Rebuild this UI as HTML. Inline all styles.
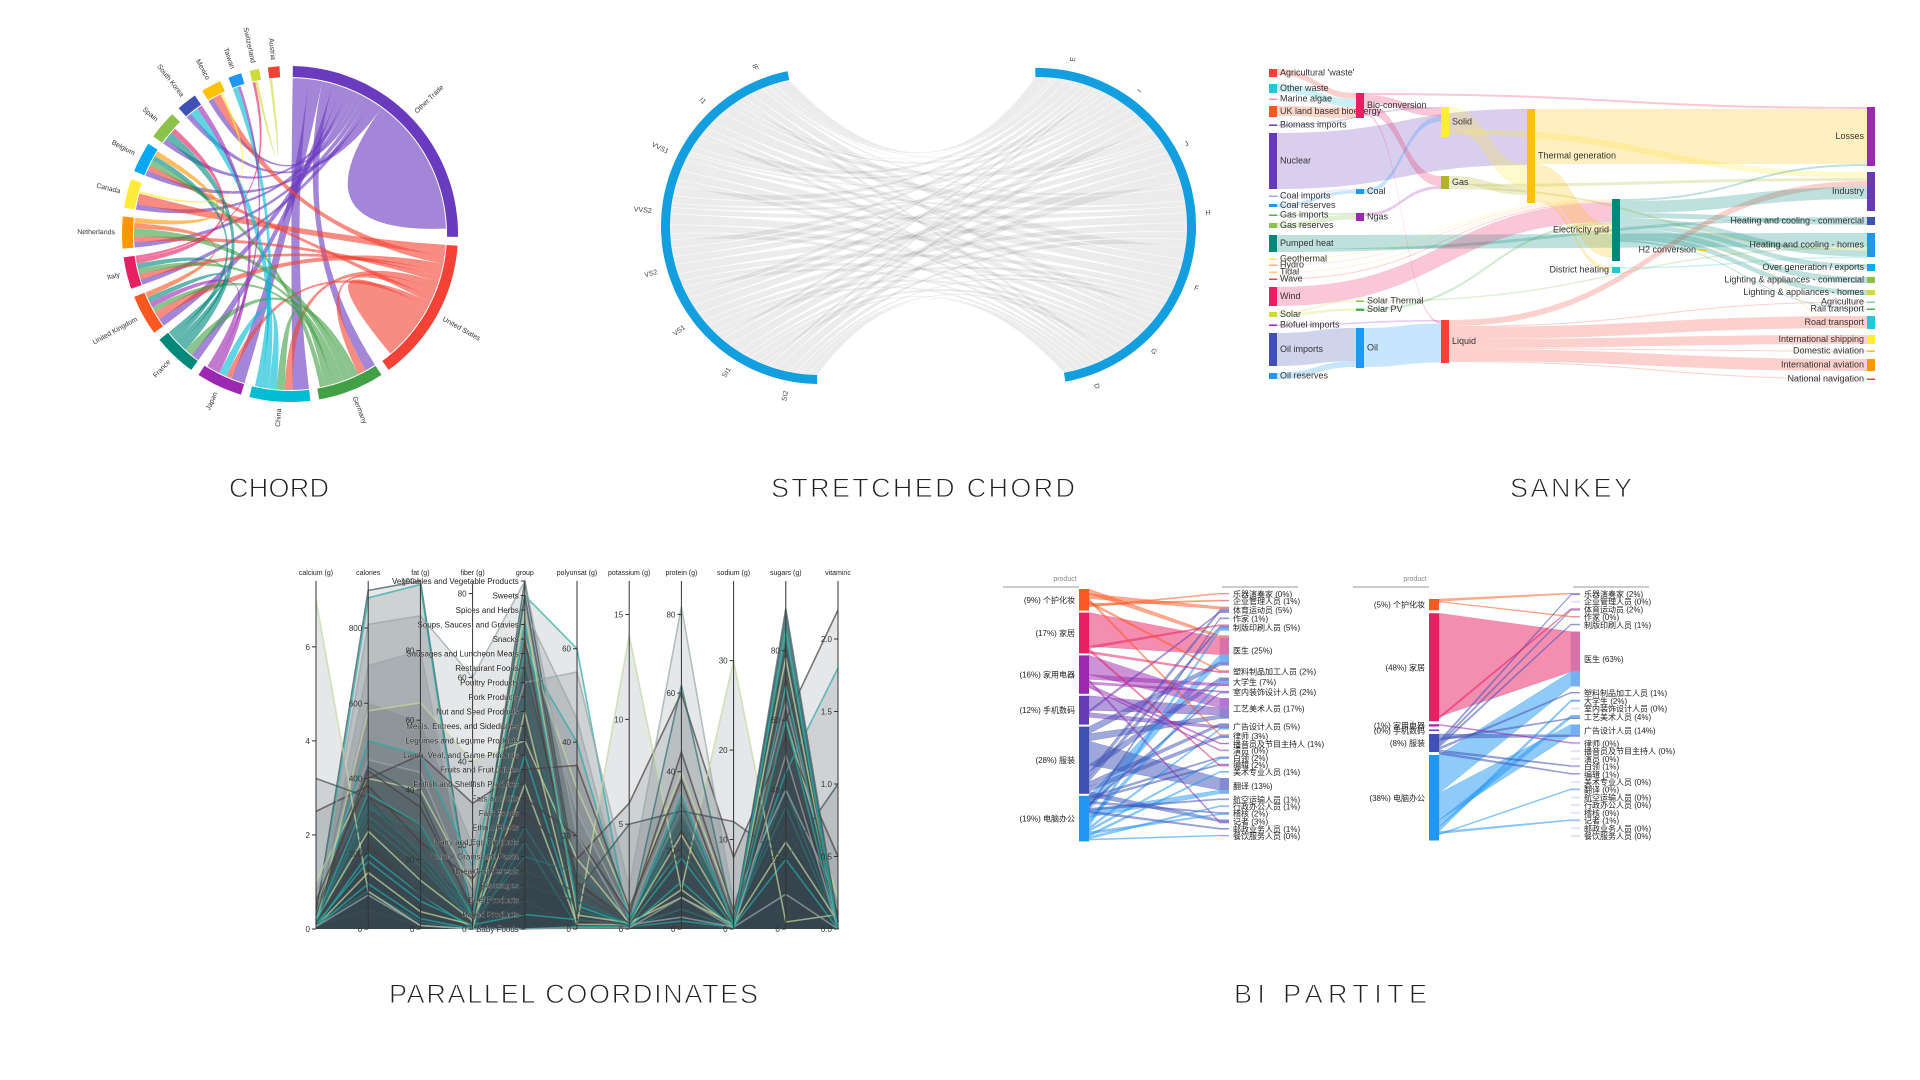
<!DOCTYPE html>
<html><head><meta charset="utf-8"><style>
html,body{margin:0;padding:0;background:#fff;}
svg{display:block;font-family:"Liberation Sans","Noto Sans CJK SC",sans-serif;}
</style></head><body>
<svg id="svg" width="1920" height="1080" viewBox="0 0 1920 1080" xmlns="http://www.w3.org/2000/svg">
<rect x="0" y="0" width="1920" height="1080" fill="#fff"/>
<g font-size="27" fill="#222" stroke="#fff" stroke-width="0.9" text-anchor="start">
<text x="229" y="497" textLength="100" lengthAdjust="spacing">CHORD</text>
<text x="771" y="497" textLength="304" lengthAdjust="spacing">STRETCHED CHORD</text>
<text x="1510" y="497" textLength="122" lengthAdjust="spacing">SANKEY</text>
<text x="389" y="1003" textLength="369" lengthAdjust="spacing">PARALLEL COORDINATES</text>
<text x="1234" y="1003" textLength="193" lengthAdjust="spacing">BI PARTITE</text>
</g>
</svg>
<script>
// ---------- CHORD DATA ----------
const chordNames=['Other Trade','United States','Germany','China','Japan','France','United Kingdom','Italy','Netherlands','Canada','Belgium','Spain','South Korea','Mexico','Taiwan','Switzerland','Austria'];
const chordValues=[90,50,23,21,16,15,14,11,11,10,10.5,10,7,7,4.6,3.3,4];
const chordColors=['#6a3bbf','#f44336','#43a047','#00bcd4','#9c27b0','#00897b','#ff5722','#e91e63','#ff9800','#ffeb3b','#03a9f4','#8bc34a','#3f51b5','#ffc107','#2196f3','#cddc39','#f44336'];
const chordFlows=[
['Other Trade','China',6],['Other Trade','Japan',5],['Other Trade','Germany',4],['Other Trade','France',3],['Other Trade','United Kingdom',3],['Other Trade','Spain',2],['Other Trade','Canada',2],['Other Trade','Mexico',2],['Other Trade','Netherlands',2],['Other Trade','Italy',2],['Other Trade','Belgium',2],['Other Trade','South Korea',2],['Other Trade','Other Trade',26],
['United States','Canada',4],['United States','Mexico',3],['United States','United Kingdom',3],['United States','Italy',2],['United States','Netherlands',2],['United States','China',3],['United States','Germany',3],['United States','Belgium',2],['United States','Japan',2],['United States','United States',11],
['Germany','France',3],['Germany','Netherlands',3],['Germany','Italy',2],['Germany','United Kingdom',2],['Germany','China',3],['Germany','Belgium',2],
['China','Japan',3],['China','South Korea',3],['China','Taiwan',2],
['Japan','South Korea',2],['Japan','Taiwan',1],['Japan','United Kingdom',2],
['France','Spain',3],['France','Italy',2],['France','Belgium',2],['France','United Kingdom',2],
['United Kingdom','Netherlands',2],['Italy','Spain',2],['Italy','Switzerland',1],['Netherlands','Belgium',2],['Canada','Mexico',1],['Switzerland','Austria',1]
];
// ---------- STRETCHED CHORD DATA ----------
const scLeft=['IF','I1','VVS1','VVS2','VS2','VS1','SI1','SI2'];
const scRight=['E','I','J','H','F','G','D'];
const scMatrix=[
[30,10,5,8,22,15,10],
[8,12,18,25,15,12,10],
[20,12,6,10,22,18,12],
[18,14,8,12,20,16,12],
[15,16,15,18,14,12,10],
[12,16,18,16,12,14,12],
[10,18,20,14,10,16,12],
[8,16,22,14,10,14,16]];
// ---------- SANKEY DATA ----------
const skNames=["Agricultural 'waste'","Other waste","Marine algae","UK land based bioenergy","Biomass imports","Nuclear","Coal imports","Coal reserves","Gas imports","Gas reserves","Pumped heat","Geothermal","Hydro","Tidal","Wave","Wind","Solar","Biofuel imports","Oil imports","Oil reserves",
"Bio-conversion","Coal","Ngas","Solar Thermal","Solar PV","Oil",
"Solid","Gas","Liquid","Thermal generation","Electricity grid","District heating","H2 conversion",
"Losses","Industry","Heating and cooling - commercial","Heating and cooling - homes","Over generation / exports","Lighting & appliances - commercial","Lighting & appliances - homes","Agriculture","Rail transport","Road transport","International shipping","Domestic aviation","International aviation","National navigation"];
const skCol=[0,0,0,0,0,0,0,0,0,0,0,0,0,0,0,0,0,0,0,0, 1,1,1,1,1,1, 2,2,2,3,4,4,5, 6,6,6,6,6,6,6,6,6,6,6,6,6,6];
const skTop=[69,84,98.5,106,124.5,133,195.5,204,214.5,223,235,258.5,264.5,271.5,278.5,287,312,324.5,333,373, 93,189,213,300.5,308.5,328, 107,176,320,109,199,267,249.5, 107,172,217,233,264,277,290,301.5,308.5,316,335,350.5,359,378.5];
const skHeight=[8,9,1.5,11,1.5,56,1.5,3,1.5,5,17,1.5,1.5,1.5,1.5,19,5,1.5,33,6, 25,5,8,1.5,2.5,40, 30,13,43,94,62,6,1.5, 59,39,8,24,7,6,5,1.5,1.5,13,9,1.5,12,1.5];
const skColors=['#f44336','#26c6da','#f48fb1','#ff5722','#673ab7','#673ab7','#9fa8da','#2196f3','#4caf50','#8bc34a','#00897b','#ffeb3b','#ffab91','#ffcc80','#f44336','#e91e63','#cddc39','#9c27b0','#3f51b5','#2196f3',
'#e91e63','#2196f3','#9c27b0','#8bc34a','#4caf50','#2196f3','#ffeb3b','#afb42b','#f44336','#ffc107','#00897b','#26c6da','#ffc107',
'#9c27b0','#673ab7','#3f51b5','#2196f3','#03a9f4','#8bc34a','#cddc39','#80cbc4','#4caf50','#26c6da','#ffeb3b','#ffc107','#ff9800','#f44336'];
const skLinks=[
["Agricultural 'waste'","Bio-conversion",6],["Other waste","Bio-conversion",8],["Marine algae","Bio-conversion",1],["UK land based bioenergy","Bio-conversion",10],["Biomass imports","Solid",1.5],
["Nuclear","Thermal generation",56],["Coal imports","Coal",1.5],["Coal reserves","Coal",3],["Gas imports","Ngas",1.5],["Gas reserves","Ngas",5],
["Pumped heat","Heating and cooling - homes",14],["Pumped heat","Heating and cooling - commercial",3],
["Geothermal","Electricity grid",1],["Hydro","Electricity grid",1],["Tidal","Electricity grid",1],["Wave","Electricity grid",1],["Wind","Electricity grid",19],
["Solar","Solar Thermal",1.5],["Solar","Solar PV",2.5],["Solar Thermal","Heating and cooling - homes",1.5],["Solar PV","Electricity grid",2.5],
["Biofuel imports","Liquid",1.5],["Oil imports","Oil",33],["Oil reserves","Oil",6],
["Bio-conversion","Losses",2],["Bio-conversion","Solid",8],["Bio-conversion","Gas",10],["Bio-conversion","Liquid",2],
["Coal","Solid",5],["Ngas","Gas",3],["Oil","Liquid",39],
["Solid","Thermal generation",22],["Solid","Industry",6],["Gas","Thermal generation",8],["Gas","Industry",3],["Gas","Heating and cooling - homes",2],
["Liquid","Industry",6],["Liquid","Agriculture",1],["Liquid","Road transport",12],["Liquid","International shipping",9],["Liquid","Domestic aviation",1],["Liquid","International aviation",12],["Liquid","National navigation",1],
["Thermal generation","Losses",55],["Thermal generation","Electricity grid",33],["Thermal generation","District heating",5],
["Electricity grid","Losses",2],["Electricity grid","Industry",12],["Electricity grid","Heating and cooling - commercial",5],["Electricity grid","Heating and cooling - homes",6],["Electricity grid","Over generation / exports",5],["Electricity grid","Lighting & appliances - commercial",6],["Electricity grid","Lighting & appliances - homes",5],["Electricity grid","H2 conversion",1],["Electricity grid","Rail transport",1],
["District heating","Heating and cooling - homes",1.5],["H2 conversion","Road transport",1]
];
// ---------- PARALLEL COORDINATES DATA ----------
const pcAxes=['calcium (g)','calories','fat (g)','fiber (g)','group','polyunsat (g)','potassium (g)','protein (g)','sodium (g)','sugars (g)','vitaminc'];
const pcMax=[7.4,925,100,83,24,74.5,16.6,88.5,38.9,100,2.4];
const pcTicks=[[0,2,4,6],[0,200,400,600,800],[0,20,40,60,80,100],[0,20,40,60,80],[],[0,20,40,60],[0,5,10,15],[0,20,40,60,80],[0,10,20,30],[0,20,40,60,80],[0,0.5,1,1.5,2]];
const pcGroups=['Baby Foods','Baked Products','Beef Products','Beverages','Breakfast Cereals','Cereal Grains and Pasta','Dairy and Egg Products','Ethnic Foods','Fast Foods','Fats and Oils','Finfish and Shellfish Products','Fruits and Fruit Juices','Lamb, Veal, and Game Products','Legumes and Legume Products','Meals, Entrees, and Sidedishes','Nut and Seed Products','Pork Products','Poultry Products','Restaurant Foods','Sausages and Luncheon Meats','Snacks','Soups, Sauces, and Gravies','Spices and Herbs','Sweets','Vegetables and Vegetable Products'];
const pcRows=[
[0.3,900,100,2,24,10,0.2,5,0.5,80,0.05],[0.1,880,99,0,23,60,0.1,2,0.2,85,0],[0.2,700,80,5,22,45,0.5,30,1,70,0.1],[1.0,400,40,10,20,30,1.0,40,2,60,0.2],
[0.5,350,30,3,18,10,0.4,25,1,50,0.05],[0.2,300,20,2,16,5,0.3,30,0.5,40,0.02],[0.1,250,15,1,14,3,0.3,20,0.6,30,0],[0.05,200,10,0,12,2,0.2,28,0.3,20,0],
[0.8,450,45,8,21,25,0.6,35,1.5,65,0.1],[0.05,150,5,1,10,1,0.2,10,0.2,85,0],[2.5,380,25,12,8,15,6,60,8,55,0.5],[0.1,100,2,0,6,0.5,0.1,5,0.1,90,0],
[0.1,50,1,0,2,0.2,0.1,1,0.1,75,0],[0.3,500,50,15,19,40,0.5,20,0.5,45,1.8],[0.2,600,60,20,17,55,2,82,3,40,0.2],[7,100,1,0,15,1,14,10,30,2,0.1],
[0.4,420,35,5,9,20,0.7,45,2,60,2.2],[0.2,320,28,2,5,12,0.4,62,1,35,0],[0.3,240,12,3,3,6,0.3,22,0.4,82,0],[0.1,180,8,1,1,2,0.2,18,0.3,70,0],
[0.2,810,90,60,24,20,0.2,3,0.2,10,0],[0.1,580,65,40,13,15,0.3,8,0.5,25,0.05],[0.6,400,50,30,11,35,1,38,1,50,0.1],[0.1,280,18,2,7,4,0.2,26,0.6,88,0],
[3.2,350,20,6,4,8,5,30,12,20,1.0],[0.05,120,3,0,0,0.5,0.1,12,0.1,60,0],[0.05,90,1,0,0,0.2,0.05,8,0.1,50,0],[0.2,260,14,2,22,3,0.3,24,0.5,78,0],
[0.15,220,10,1,20,2,0.2,20,0.4,72,0.05],[0.1,330,22,3,18,6,0.3,32,0.7,84,0],[0.3,430,38,4,23,8,0.3,28,0.5,92,0.05],[0.2,360,30,3,21,5,0.2,34,0.4,86,0]
];
// ---------- BIPARTITE DATA ----------
const bpLeftNames=['个护化妆','家居','家用电器','手机数码','服装','电脑办公'];
const bpLeftColors=['#ff5722','#e91e63','#9c27b0','#673ab7','#3f51b5','#2196f3'];
const bpRightNames=['乐器演奏家','企业管理人员','体育运动员','作家','制版印刷人员','医生','塑料制品加工人员','大学生','室内装饰设计人员','工艺美术人员','广告设计人员','律师','播音员及节目主持人','演员','白领','编辑','美术专业人员','翻译','航空运输人员','行政办公人员','稽核','记者','邮政业务人员','餐饮服务人员'];
const bpLeftPctA=[9,17,16,12,28,19];
const bpRightPctA=[0,1,5,1,5,25,2,7,2,17,5,3,1,0,2,2,1,13,1,1,2,3,1,0];
const bpFlowsA=[[0,5,2],[1,5,14],[5,5,6],[4,5,3],[2,9,8],[3,9,6],[4,9,3],[4,17,10],[5,17,3],[4,7,3],[5,7,2],[2,7,2],
[0,2,2],[4,2,2],[3,2,1],[1,4,1],[4,4,2],[5,4,2],[4,10,2],[3,10,2],[5,10,1],[0,11,1],[4,11,2],[4,21,2],[2,21,1],
[4,14,1],[5,14,1],[4,15,1],[1,15,1],[4,20,1],[5,20,1],[0,6,1],[1,6,1],[2,8,1],[4,8,1],[0,1,1],[4,3,1],[2,12,1],[5,16,1],[4,18,1],[5,19,1],[4,22,1],[0,0,0.5],[5,23,0.5],[2,13,0.5]];
const bpLeftPctB=[5,48,1,0,8,38];
const bpRightPctB=[2,0,2,0,1,63,1,2,0,4,14,0,0,0,1,1,0,0,0,0,0,1,0,0];
const bpFlowsB=[[1,5,46],[5,5,17],[5,10,12],[4,10,2],[5,9,3],[4,9,1],[5,7,2],[0,0,1],[4,0,1],[1,2,1],[4,2,1],[4,4,1],[4,6,1],[4,14,1],[4,15,1],[5,21,1],[5,17,0.5],[2,11,0.5],[0,3,0.3]];

const NS='http://www.w3.org/2000/svg';
const svg=document.getElementById('svg');
function mk(tag,attrs,parent){const e=document.createElementNS(NS,tag);for(const k in attrs)e.setAttribute(k,attrs[k]);(parent||svg).appendChild(e);return e;}
const R=Math.PI/180;
function pt(cx,cy,r,a){return [cx+r*Math.cos(a*R),cy+r*Math.sin(a*R)];}
function arcD(cx,cy,r,a0,a1){const n=Math.max(2,Math.ceil(Math.abs(a1-a0)/2));const s=[];for(let i=0;i<=n;i++){const p=pt(cx,cy,r,a0+(a1-a0)*i/n);s.push(p[0].toFixed(1)+' '+p[1].toFixed(1));}return s.join(' L ');}
function band(cx,cy,r0,r1,a0,a1){return 'M'+arcD(cx,cy,r1,a0,a1)+' L '+arcD(cx,cy,r0,a1,a0)+' Z';}

// ================= CHORD =================
(function(){
const cx=290,cy=234,r0=156,r1=168,pad=3;
const g=mk('g',{});


const gs=[],cur=[];let a=-89;
chordValues.forEach((v,i)=>{gs[i]=a;cur[i]=a;a+=v+pad;});
chordFlows.forEach(f=>{
 const i=chordNames.indexOf(f[0]),j=chordNames.indexOf(f[1]);
 const a0=cur[i],a1=a0+f[2];cur[i]=a1;
 const b0=cur[j],b1=b0+f[2];cur[j]=b1;
 const d='M'+arcD(cx,cy,r0,a0,a1)+' Q '+cx+' '+cy+' '+arcD(cx,cy,r0,b0,b1)+' Q '+cx+' '+cy+' '+pt(cx,cy,r0,a0).join(' ')+' Z';
 const p=mk('path',{d:d,fill:chordColors[i],'fill-opacity':0.62},g);
 
 
});
chordValues.forEach((v,i)=>{
 const p=mk('path',{d:band(cx,cy,r0+1,r1,gs[i],gs[i]+v),fill:chordColors[i]},g);
 
 
 const m=gs[i]+v/2;const q=pt(cx,cy,r1+7,m);
 const flip=Math.cos(m*R)<0;
 const t=mk('text',{x:q[0],y:q[1],'font-size':7,fill:'#333','dominant-baseline':'middle','text-anchor':flip?'end':'start',transform:'rotate('+(flip?m+180:m)+' '+q[0]+' '+q[1]+')'},g);
 t.textContent=chordNames[i];
 
 
});
})();

// ================= STRETCHED CHORD =================
(function(){
const L={cx:819,cy:226},Rt={cx:1038,cy:226},r=149,r1=158,C=[928,226];
const g=mk('g',{});


const rowSum=scMatrix.map(r=>r.reduce((s,v)=>s+v,0));
const colSum=scRight.map((_,j)=>scMatrix.reduce((s,r)=>s+r[j],0));
const tot=rowSum.reduce((s,v)=>s+v,0);
const la0=258.5,la1=90.7,ra0=-91,ra1=80;
const lk=(la1-la0)/tot,rk=(ra1-ra0)/tot;
const lStart=[];let a=la0;rowSum.forEach((v,i)=>{lStart[i]=a;a+=v*lk;});
const rStart=[];let b=ra0;colSum.forEach((v,j)=>{rStart[j]=b;b+=v*rk;});
const rCur=rStart.slice();
for(let i=0;i<scLeft.length;i++){
 let ac=lStart[i];
 for(let j=0;j<scRight.length;j++){
  const v=scMatrix[i][j];
  const a0=ac,a1=ac+v*lk;ac=a1;
  const b0=rCur[j],b1=b0+v*rk;rCur[j]=b1;
  const d='M'+arcD(L.cx,L.cy,r,a0,a1)+' Q '+C[0]+' '+C[1]+' '+arcD(Rt.cx,Rt.cy,r,b1,b0)+' Q '+C[0]+' '+C[1]+' '+pt(L.cx,L.cy,r,a0).join(' ')+' Z';
  const p=mk('path',{d:d,fill:'#8a8a8a','fill-opacity':0.16,stroke:'#fff','stroke-opacity':0.55,'stroke-width':0.7},g);
  
  
 }
}
const pl=mk('path',{d:band(L.cx,L.cy,r,r1,la0,la1),fill:'#139ee0'},g);


const pr=mk('path',{d:band(Rt.cx,Rt.cy,r,r1,ra0,ra1),fill:'#139ee0'},g);


scLeft.forEach((n,i)=>{
 const m=lStart[i]+rowSum[i]*lk/2;const q=pt(L.cx,L.cy,r1+10,m);
 const t=mk('text',{x:q[0],y:q[1],'font-size':7,fill:'#444','text-anchor':'end','dominant-baseline':'middle',transform:'rotate('+(m+180)+' '+q[0]+' '+q[1]+')'},g);
 t.textContent=n;
 
 
});
scRight.forEach((n,j)=>{
 const m=rStart[j]+colSum[j]*rk/2;const q=pt(Rt.cx,Rt.cy,r1+10,m);
 const t=mk('text',{x:q[0],y:q[1],'font-size':7,fill:'#444','dominant-baseline':'middle',transform:'rotate('+m+' '+q[0]+' '+q[1]+')'},g);
 t.textContent=n;
 
 
});
})();

// ================= SANKEY =================
(function(){
const colX=[1269,1356,1441,1527,1612,1699,1867],nw=8;
const g=mk('g',{});


const outC=skTop.slice(),inC=skTop.slice();
const lg=mk('g',{},g);


skLinks.forEach(l=>{
 const s=skNames.indexOf(l[0]),t=skNames.indexOf(l[1]),w=l[2];
 const x0=colX[skCol[s]]+nw,x1=colX[skCol[t]];
 const y0=outC[s],y1=inC[t];outC[s]+=w;inC[t]+=w;
 const xm=(x0+x1)/2;
 const d=`M${x0} ${y0} C${xm} ${y0} ${xm} ${y1} ${x1} ${y1} L${x1} ${y1+w} C${xm} ${y1+w} ${xm} ${y0+w} ${x0} ${y0+w} Z`;
 const p=mk('path',{d:d,fill:skColors[s],'fill-opacity':0.25},lg);
 
 
});
skNames.forEach((n,i)=>{
 const c=skCol[i],x=colX[c];
 const rct=mk('rect',{x:x,y:skTop[i],width:nw,height:skHeight[i],fill:skColors[i]},g);
 
 
 const right=c<=3;
 const t=mk('text',{x:right?x+nw+3:x-3,y:skTop[i]+skHeight[i]/2,'font-size':9,fill:'#333','dominant-baseline':'middle','text-anchor':right?'start':'end'},g);
 t.textContent=n;
 
 
});
})();

// ================= PARALLEL COORDINATES =================
(function(){
const x0=316,x1=838,yb=929,yt=581;
const g=mk('g',{});


const ax=i=>x0+(x1-x0)*i/(pcAxes.length-1);
const ay=(i,v)=>yb-(v/pcMax[i])*(yb-yt);
const cols=['#3b4e53','#27a9a6','#9aa6a8','#c5d9a0','#4a3d3d','#2f6f72'];
const lg=mk('g',{},g);


pcRows.forEach((r,k)=>{
 const pts=r.map((v,i)=>ax(i).toFixed(1)+','+ay(i,v).toFixed(1));
 const a=mk('polygon',{points:ax(0)+','+yb+' '+pts.join(' ')+' '+ax(pcAxes.length-1)+','+yb,fill:'#34494e','fill-opacity':0.13},lg);
 
 
});
pcRows.forEach((r,k)=>{
 const pts=r.map((v,i)=>ax(i).toFixed(1)+','+ay(i,v).toFixed(1));
 const c=cols[k%cols.length];
 const p=mk('polyline',{points:pts.join(' '),fill:'none',stroke:c,'stroke-opacity':0.7,'stroke-width':1.6},lg);
 
 
});
pcAxes.forEach((n,i)=>{
 const x=ax(i);
 const l=mk('line',{x1:x,y1:yt,x2:x,y2:yb,stroke:'#333','stroke-width':1},g);
 
 
 const t=mk('text',{x:x,y:575,'font-size':7,fill:'#222','text-anchor':'middle'},g);
 t.textContent=n;
 
 
 pcTicks[i].forEach(v=>{
  const y=ay(i,v);
  const tk=mk('line',{x1:x-4,y1:y,x2:x,y2:y,stroke:'#333'},g);
  
  
  const tl=mk('text',{x:x-6,y:y+3,'font-size':8,fill:'#333','text-anchor':'end'},g);
  tl.textContent=(n==='vitaminc')?v.toFixed(1):String(v);
  
  
 });
});
const gi=pcAxes.indexOf('group'),gx=ax(gi);
pcGroups.forEach((n,k)=>{
 const y=ay(gi,k);
 const tk=mk('line',{x1:gx-4,y1:y,x2:gx,y2:y,stroke:'#333'},g);
 
 
 const t=mk('text',{x:gx-6,y:y+3,'font-size':8,fill:'#222','text-anchor':'end',stroke:'#fff','stroke-width':0.3,'paint-order':'stroke'},g);
 t.textContent=n;
 
 
});
})();

// ================= BIPARTITE =================
function drawBip(name,leftPct,rightPct,flows,o){
 const g=mk('g',{});
 
 
 const top=o.top,bottom=837;
 const h1=mk('text',{x:o.lx-14,y:581,'font-size':7,fill:'#888','text-anchor':'middle'},g);
 h1.textContent='product';
 
 
 const u1=mk('line',{x1:o.lx-76,y1:587,x2:o.lx,y2:587,stroke:'#999'},g);
 
 
 const u2=mk('line',{x1:o.rx+2,y1:587,x2:o.rx+78,y2:587,stroke:'#999'},g);
 
 
 const ly=[],lh=[];let y=top;
 leftPct.forEach((p,i)=>{ly[i]=y;lh[i]=Math.max(1.5,p*o.kL);y+=lh[i]+o.gL;});
 const rh=rightPct.map(p=>Math.max(2,p*o.kR));
 const sumH=rh.reduce((s,v)=>s+v,0);
 const gR=(bottom-593-sumH)/(rightPct.length-1);
 const ry=[];y=593;rh.forEach((h,j)=>{ry[j]=y;y+=h+gR;});
 const lc=ly.slice(),rc=ry.slice();
 const fg=mk('g',{},g);
 
 
 flows.forEach(f=>{
  const i=f[0],j=f[1];
  const wl=f[2]*o.kL,wr=Math.max(1,f[2]*o.kR);
  const a0=lc[i];lc[i]+=wl;const b0=rc[j];rc[j]+=wr;
  const x0=o.lx+10,x1=o.rx;
  const d=`M${x0} ${a0} L${x1} ${b0} L${x1} ${b0+wr} L${x0} ${a0+wl} Z`;
  const p=mk('path',{d:d,fill:bpLeftColors[i],'fill-opacity':0.5,stroke:bpLeftColors[i],'stroke-opacity':0.35,'stroke-width':0.6},fg);
  
  
  const s=mk('rect',{x:o.rx,y:b0,width:9,height:wr,fill:bpLeftColors[i]},g);
  
  
 });
 leftPct.forEach((p,i)=>{
  const r=mk('rect',{x:o.lx,y:ly[i],width:10,height:lh[i],fill:bpLeftColors[i]},g);
  
  
  const t=mk('text',{x:o.lx-4,y:ly[i]+lh[i]/2+3,'font-size':8,fill:'#222','text-anchor':'end'},g);
  t.textContent='('+p+'%) '+bpLeftNames[i];
  
  
 });
 rightPct.forEach((p,j)=>{
  const b=mk('rect',{x:o.rx,y:ry[j],width:9,height:rh[j],fill:'#c8c8f0','fill-opacity':0.5},g);
  
  
  const t=mk('text',{x:o.rx+13,y:ry[j]+rh[j]/2+3,'font-size':8,fill:'#222'},g);
  t.textContent=bpRightNames[j]+' ('+p+'%)';
  
  
 });
}
drawBip('bipartite-chart-a',bpLeftPctA,bpRightPctA,bpFlowsA,{lx:1079,rx:1220,top:589,kL:2.4,gL:2,kR:1.2});
drawBip('bipartite-chart-b',bpLeftPctB,bpRightPctB,bpFlowsB,{lx:1429,rx:1571,top:599,kL:2.25,gL:3,kR:0.87});
</script>
</body></html>
